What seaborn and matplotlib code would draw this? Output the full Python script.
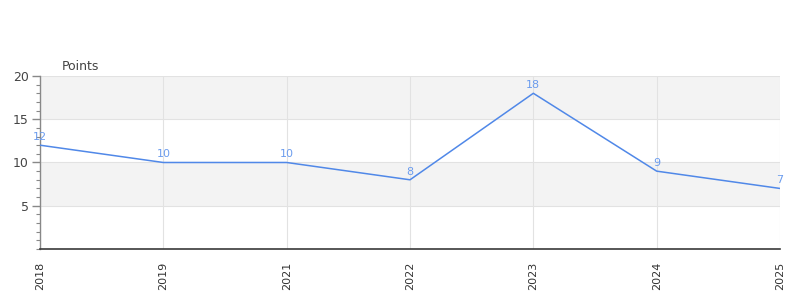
import matplotlib
matplotlib.use("Agg")
import matplotlib.pyplot as plt
import seaborn as sns
import pandas as pd
from matplotlib.ticker import MultipleLocator

years = ["2018", "2019", "2021", "2022", "2023", "2024", "2025"]
points = [12, 10, 10, 8, 18, 9, 7]

sns.set_theme(style="white")
plt.rcParams['font.family'] = ['DejaVu Sans']

df = pd.DataFrame({"year": years, "points": points})

fig = plt.figure(figsize=(8, 3), dpi=100)
ax = fig.add_axes([0.05, 0.17, 0.925, 0.5767])

line_color = "#5088e8"
label_color = "#6b9cee"

# alternating bands
ax.axhspan(15, 20, color="#f3f3f3", zorder=0, lw=0)
ax.axhspan(5, 10, color="#f3f3f3", zorder=0, lw=0)

sns.lineplot(data=df, x="year", y="points", ax=ax, color=line_color, lw=1.1, zorder=3)

for i, v in enumerate(points):
    ax.text(i, v + 0.35, str(v), color=label_color, fontsize=8, ha="center", va="bottom", zorder=4)

ax.set_xlim(0, len(years) - 1)
ax.set_ylim(0, 20)
ax.set_yticks([5, 10, 15, 20])
ax.yaxis.set_minor_locator(MultipleLocator(1))
ax.grid(True, axis="both", color="#e2e2e2", lw=0.8, zorder=1)
ax.set_axisbelow(True)

for s in ["top", "right"]:
    ax.spines[s].set_visible(False)
ax.spines["left"].set_color("#888888")
ax.spines["left"].set_linewidth(1)
ax.spines["bottom"].set_color("#3a3a3a")
ax.spines["bottom"].set_linewidth(1.2)

ax.tick_params(axis="y", which="major", length=6, width=1, color="#888888", labelsize=9, labelcolor="#444444", left=True, pad=2)
ax.tick_params(axis="y", which="minor", length=3, width=0.8, color="#888888", left=True)
ax.tick_params(axis="x", length=0, labelsize=8, labelcolor="#333333", rotation=90, pad=9)

ax.set_xlabel("")
ax.set_ylabel("")
ax.text(22 / 740, 1.02, "Points", transform=ax.transAxes, fontsize=9, color="#444444", ha="left", va="bottom")

fig.savefig("out.png", dpi=100)
